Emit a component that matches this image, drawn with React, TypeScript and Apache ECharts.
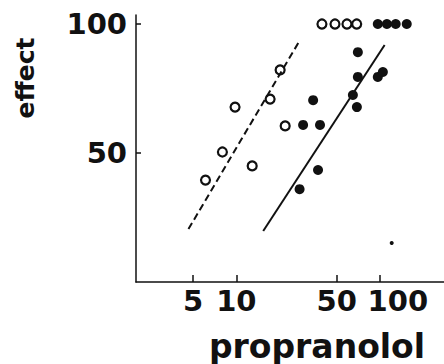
import React, { useEffect, useRef } from "react";
import * as echarts from "echarts";

// propranolol dose (log scale) and effect
const openX = [6.1, 8.0, 9.8, 12.9, 17.2, 20.2, 21.9, 39.5, 48.7, 59, 69];
const openY = [39.5, 50.4, 67.8, 45.0, 70.9, 82.2, 60.5, 100, 100, 100, 100];
const filledX = [27.6, 29.2, 38.3, 34.3, 37.1, 64.9, 69.2, 70.3, 70.3, 96.8, 105, 96.8, 112, 129, 154];
const filledY = [36.0, 60.9, 60.9, 70.5, 43.4, 72.5, 67.8, 79.5, 89.1, 79.5, 81.4, 100, 100, 100, 100];
const dashedX = [4.64, 27.8];
const dashedY = [20.5, 93.8];
const solidX = [15.4, 108];
const solidY = [19.8, 91.9];
const dotX = [121];
const dotY = [15.1];
const xTicks = [5, 10, 50, 100];
const yTicks = [50, 100];

const FONT = "DejaVu Sans";

function pairs(xs: number[], ys: number[]) {
  return xs.map((x, i) => [x, ys[i]]);
}

export default function App() {
  const ref = useRef<HTMLDivElement>(null);
  useEffect(() => {
    if (!ref.current) return;
    const chart = echarts.init(ref.current, null, { renderer: "svg" });
    const labelBase = {
      fontFamily: FONT,
      fontWeight: "bold" as const,
      fontSize: 29,
      color: "#111",
    };
    chart.setOption({
      animation: false,
      backgroundColor: "#fff",
      grid: { left: 136, top: 15, width: 308, height: 267 },
      xAxis: {
        type: "log",
        logBase: 10,
        min: 2,
        max: 280,
        axisLine: { show: true, lineStyle: { color: "#111", width: 1.5 } },
        axisTick: {
          show: true,
          inside: true,
          length: 7,
          customValues: xTicks,
          lineStyle: { color: "#111", width: 1.5 },
        },
        minorTick: { show: false },
        splitLine: { show: false },
        axisLabel: {
          customValues: xTicks,
          margin: 4,
          ...labelBase,
          formatter: (v: number) =>
            Math.round(v) === 100 ? "{s|100}" : "{n|" + Math.round(v) + "}",
          rich: {
            s: { ...labelBase, padding: [0, 0, 0, 36] },
            n: { ...labelBase },
          },
        },
      },
      yAxis: {
        type: "value",
        min: 0,
        max: 103.5,
        axisLine: { show: true, lineStyle: { color: "#111", width: 1.5 } },
        axisTick: {
          show: true,
          inside: true,
          length: 5,
          customValues: yTicks,
          lineStyle: { color: "#111", width: 1.5 },
        },
        splitLine: { show: false },
        axisLabel: {
          customValues: yTicks,
          margin: 9,
          ...labelBase,
        },
      },
      graphic: [
        {
          type: "text",
          x: 25,
          y: 78,
          rotation: Math.PI / 2,
          style: {
            text: "effect",
            font: `bold 25px "${FONT}"`,
            fill: "#111",
            align: "center",
            verticalAlign: "middle",
          },
        },
        {
          type: "text",
          x: 317,
          y: 346,
          style: {
            text: "propranolol",
            font: `bold 33px "${FONT}"`,
            fill: "#111",
            align: "center",
            verticalAlign: "middle",
          },
        },
      ],
      series: [
        {
          name: "dashed",
          type: "line",
          data: pairs(dashedX, dashedY),
          symbol: "none",
          lineStyle: { color: "#111", width: 2, type: [7, 4] },
        },
        {
          name: "solid",
          type: "line",
          data: pairs(solidX, solidY),
          symbol: "none",
          lineStyle: { color: "#111", width: 2 },
        },
        {
          name: "open",
          type: "scatter",
          data: pairs(openX, openY),
          symbol: "circle",
          symbolSize: 9,
          itemStyle: { color: "#fff", borderColor: "#111", borderWidth: 2.2, opacity: 1 },
        },
        {
          name: "filled",
          type: "scatter",
          data: pairs(filledX, filledY),
          symbol: "circle",
          symbolSize: 10,
          itemStyle: { color: "#111", opacity: 1 },
        },
        {
          name: "dot",
          type: "scatter",
          data: pairs(dotX, dotY),
          symbol: "circle",
          symbolSize: 4,
          itemStyle: { color: "#111", opacity: 1 },
        },
      ],
    });
    return () => chart.dispose();
  }, []);
  return (
    <div
      ref={ref}
      style={{ position: "fixed", left: 0, top: 0, width: 444, height: 364 }}
    />
  );
}
